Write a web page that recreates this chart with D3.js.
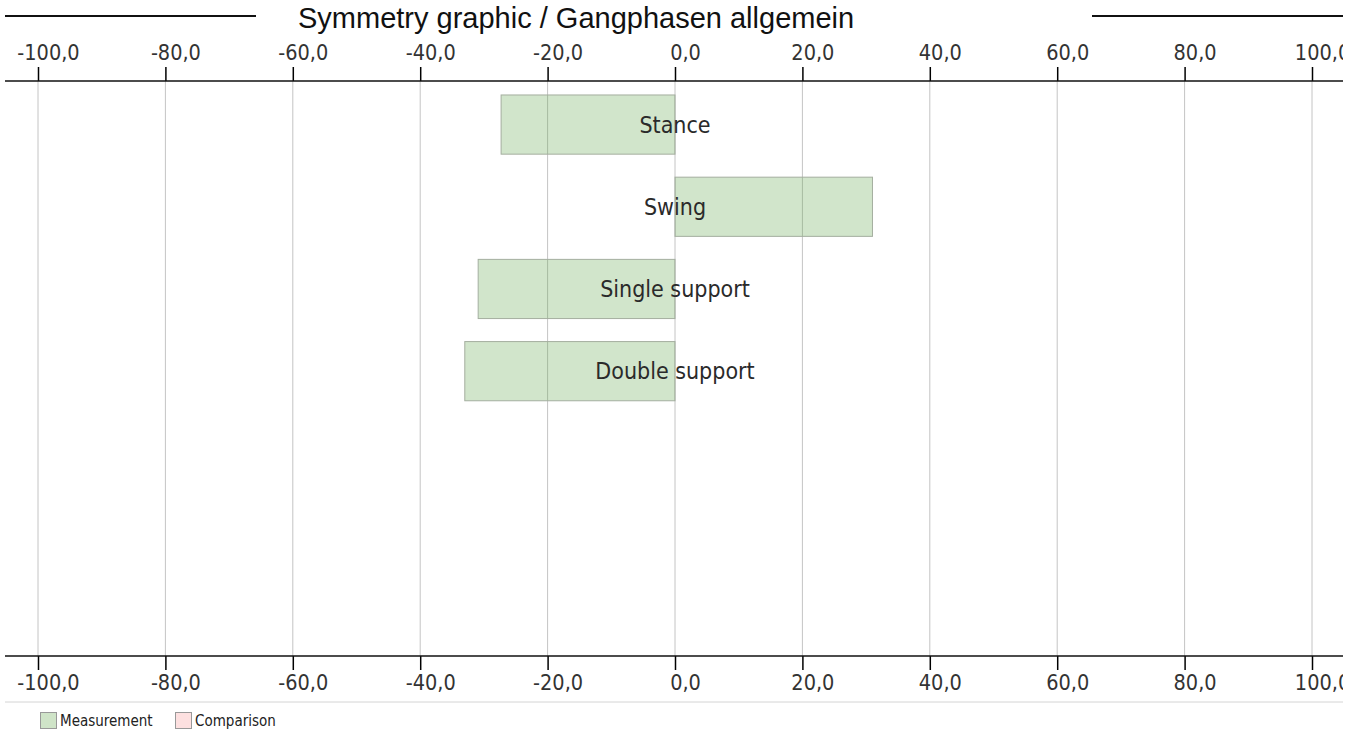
<!DOCTYPE html>
<html lang="en">
  <head>
    <meta charset="utf-8">
    <title>Symmetry graphic</title>
    <script type="text/javascript" src="https://d3js.org/d3.v7.min.js"></script>
    <style type="text/css">
      body { margin: 0; background: #fff; }
      .tick-label, .bar-label, .legend-label {
        font-family: "DejaVu Sans Condensed", "DejaVu Sans", sans-serif;
      }
      .axis path, .axis line { stroke: #000; }
    </style>
  </head>
  <body>
    <script type="text/javascript">
      var title = "Symmetry graphic / Gangphasen allgemein";
      var categories = ["Stance", "Swing", "Single support", "Double support"];
      var measurement = [-27.3, 31.0, -30.9, -33.0];
      var tickValues = [-100, -80, -60, -40, -20, 0, 20, 40, 60, 80, 100];
      var legendLabels = ["Measurement", "Comparison"];
      var legendColors = ["#cfe4c8", "#fde0e0"];

      var width = 1364, height = 733,
          left = 5, right = 1343,
          axisTop = 81, axisBottom = 656;

      var svg = d3.select("body").append("svg")
        .attr("width", width)
        .attr("height", height);

      svg.append("defs").append("clipPath").attr("id", "clip")
        .append("rect").attr("x", 0).attr("y", 0)
        .attr("width", right).attr("height", height);

      var g = svg.append("g").attr("clip-path", "url(#clip)");

      var x = d3.scaleLinear().domain([-100, 100]).range([38, 1312]);

      var step = 82.2;
      var y = d3.scaleBand()
        .domain(categories)
        .range([axisTop, axisTop + step * (categories.length - 0.28 + 0.34)])
        .paddingInner(0.28)
        .paddingOuter(0.17);

      var fmt = function(d) { return d3.format(".1f")(d).replace(".", ",").replace("−", "-"); };

      // title with side lines
      g.append("line").attr("x1", left).attr("x2", 256).attr("y1", 16).attr("y2", 16)
        .attr("stroke", "#111").attr("stroke-width", 2);
      g.append("line").attr("x1", 1092).attr("x2", right).attr("y1", 16).attr("y2", 16)
        .attr("stroke", "#111").attr("stroke-width", 2);
      g.append("text")
        .attr("x", 298).attr("y", 28)
        .style("font-family", "'Liberation Sans', Arial, sans-serif")
        .style("font-size", "29px")
        .attr("fill", "#111")
        .text(title);

      // grid lines
      g.selectAll(".grid")
        .data(tickValues)
        .enter().append("line")
        .attr("class", "grid")
        .attr("x1", function(d) { return x(d); })
        .attr("x2", function(d) { return x(d); })
        .attr("y1", axisTop)
        .attr("y2", axisBottom)
        .attr("stroke", "#c4c4c4")
        .attr("stroke-width", 1);

      // bars
      g.selectAll(".bar")
        .data(categories)
        .enter().append("rect")
        .attr("class", "bar")
        .attr("x", function(d, i) { return x(Math.min(0, measurement[i])); })
        .attr("width", function(d, i) { return Math.abs(x(measurement[i]) - x(0)); })
        .attr("y", function(d) { return y(d); })
        .attr("height", y.bandwidth())
        .attr("fill", "rgb(96,165,76)")
        .attr("fill-opacity", 0.29)
        .attr("stroke", "#a4ae9f")
        .attr("stroke-width", 1);

      g.selectAll(".bar-label")
        .data(categories)
        .enter().append("text")
        .attr("class", "bar-label")
        .attr("x", x(0))
        .attr("y", function(d) { return y(d) + y.bandwidth() / 2; })
        .attr("dy", "0.36em")
        .attr("text-anchor", "middle")
        .style("font-size", "23px")
        .attr("fill", "#2a2a2a")
        .text(function(d) { return d; });

      // axes
      var topAxis = d3.axisTop(x).tickValues(tickValues).tickSize(14).tickPadding(7).tickFormat(fmt);
      var bottomAxis = d3.axisBottom(x).tickValues(tickValues).tickSize(14).tickPadding(5).tickFormat(fmt);

      function styleAxis(sel) {
        sel.select(".domain").remove();
        sel.selectAll(".tick line").attr("stroke", "#222").attr("stroke-width", 1.5);
        sel.selectAll(".tick text")
          .attr("class", "tick-label")
          .attr("dx", 10)
          .style("font-size", "21.5px")
          .attr("fill", "#333");
      }

      g.append("g").attr("class", "axis")
        .attr("transform", "translate(0," + axisTop + ")")
        .call(topAxis).call(styleAxis);
      g.append("g").attr("class", "axis")
        .attr("transform", "translate(0," + axisBottom + ")")
        .call(bottomAxis).call(styleAxis);

      g.append("line").attr("x1", left).attr("x2", right).attr("y1", axisTop).attr("y2", axisTop)
        .attr("stroke", "#111").attr("stroke-width", 1.5);
      g.append("line").attr("x1", left).attr("x2", right).attr("y1", axisBottom).attr("y2", axisBottom)
        .attr("stroke", "#111").attr("stroke-width", 1.5);

      // legend
      g.append("line").attr("x1", left).attr("x2", right).attr("y1", 702).attr("y2", 702)
        .attr("stroke", "#d4d4d4").attr("stroke-width", 1);

      var legendX = [40, 175];
      var legend = g.selectAll(".legend")
        .data(legendLabels)
        .enter().append("g")
        .attr("class", "legend")
        .attr("transform", function(d, i) { return "translate(" + legendX[i] + ",712)"; });
      legend.append("rect")
        .attr("x", 0.5).attr("y", 0.5).attr("width", 16).attr("height", 16)
        .attr("fill", function(d, i) { return legendColors[i]; })
        .attr("stroke", "#999");
      legend.append("text")
        .attr("class", "legend-label")
        .attr("x", 20).attr("y", 14)
        .style("font-size", "15px")
        .attr("fill", "#222")
        .text(function(d) { return d; });
    </script>
  </body>
</html>
